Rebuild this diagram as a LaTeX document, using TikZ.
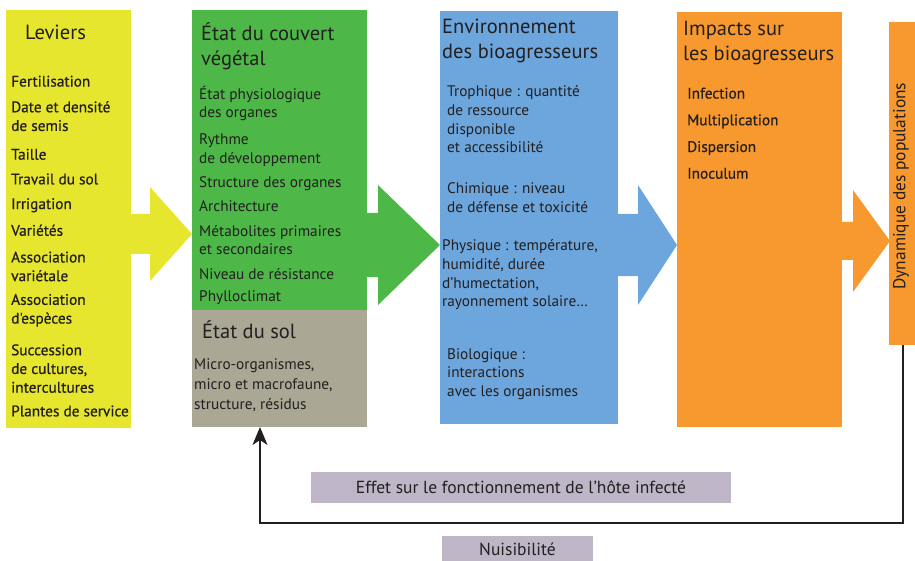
\documentclass[tikz,border=0pt]{standalone}
\usepackage{fontspec}
\setmainfont{PT Sans}
\newfontfamily\semib{PT Sans}[FakeBold=0.6]
\usetikzlibrary{arrows.meta,positioning,calc}
\definecolor{levyellow}{HTML}{E6E62E}
\definecolor{couvgreen}{HTML}{4DB748}
\definecolor{solgray}{HTML}{AAA794}
\definecolor{envblue}{HTML}{6DA6DC}
\definecolor{imporange}{HTML}{F7992E}
\definecolor{notegray}{HTML}{BEB6C6}
\definecolor{ink}{HTML}{231F20}

\begin{document}
\begin{tikzpicture}[x=1pt, y=-1pt,
  panel/.style={anchor=north west, inner sep=0pt, outer sep=0pt},
  head/.style={anchor=north west, inner sep=0pt, align=left, text=ink,
    font=\fontsize{20.5}{25}\selectfont, execute at begin node=\strut},
  item/.style={anchor=north west, inner sep=0pt, align=left, text=ink,
    font=\fontsize{15.3}{18.7}\selectfont, execute at begin node=\strut},
  bitem/.style={item, font=\semib\fontsize{15.3}{18.7}\selectfont},
  note/.style={fill=notegray, inner sep=0pt, text=ink, font=\fontsize{17.5}{20}\selectfont},
  fback/.style={-{Stealth[length=18pt,width=15pt,inset=5pt]}, line width=2pt, ink},
]
  \useasboundingbox (0,0) rectangle (915,561);

  % Columns
  \node[panel, fill=levyellow, minimum width=125pt, minimum height=418pt] (lev) at (6,10) {};
  \node[panel, fill=couvgreen, minimum width=175pt, minimum height=300pt] (couv) at (192,10) {};
  \node[panel, fill=solgray, minimum width=175pt, minimum height=117pt] (sol) at (192,310) {};
  \node[panel, fill=envblue, minimum width=178pt, minimum height=413pt] (env) at (440,11) {};
  \node[panel, fill=imporange, minimum width=165pt, minimum height=415pt] (imp) at (677,12) {};
  \node[panel, fill=imporange, minimum width=28pt, minimum height=323pt] (dyn) at (889,22) {};

  % Block arrows between the columns
  \foreach \c/\xa/\xb/\xc/\ym/\s/\h in {levyellow/130/150/192/234/20/47,
      couvgreen/366/378/440/245/32/60, envblue/617/638/677/245/31/60,
      imporange/841/853/890/241/19/51}
    \fill[\c] (\xa,\ym-\s) -- (\xb,\ym-\s) -- (\xb,\ym-\h) -- (\xc,\ym)
      -- (\xb,\ym+\h) -- (\xb,\ym+\s) -- (\xa,\ym+\s) -- cycle;

  % Leviers
  \node[head] (levt) at (25,21.5) {Leviers};
  \node[bitem] (levl) at (11,75.5)
    {Fertilisation\\[7pt] Date et densité\\de semis\\[10pt] Taille\\[6pt]
     Travail du sol\\[6pt] Irrigation\\[8pt] Variétés\\[8pt] Association\\variétale\\[5pt]
     Association\\d'espèces\\[13pt] Succession\\de cultures,\\intercultures\\[5pt]
     Plantes de service};

  % Couvert vegetal and sol
  \node[head] (couvt) at (201,22.5) {État du couvert\\végétal};
  \node[item] (couvl) at (199,85.5)
    {État physiologique\\des organes\\[8pt] Rythme\\de développement\\[6pt]
     Structure des organes\\[5pt] Architecture\\[6pt] Métabolites primaires\\et secondaires\\[6pt]
     Niveau de résistance\\[3pt] Phylloclimat};
  \node[head] (solt) at (202,320.5) {État du sol};
  \node[item] (soll) at (194,358.5)
    {Micro-organismes,\\[1.5pt] micro et macrofaune,\\[1.5pt] structure, résidus};

  % Environnement
  \node[head] (envt) at (442,18.5) {Environnement\\des bioagresseurs};
  \node[item] (troph) at (447,85.5) {Trophique : quantité\\de ressource\\disponible\\et accessibilité};
  \node[item] (chim) at (447,182.5) {Chimique : niveau\\de défense et toxicité};
  \node[item] (phys) at (442,239.5) {Physique : température,\\humidité, durée\\d'humectation,\\rayonnement solaire…};
  \node[item] (bio) at (447,348) {Biologique :\\interactions\\avec les organismes};

  % Impacts
  \node[head] (impt) at (683,21) {Impacts sur\\les bioagresseurs};
  \node[bitem] (impl) at (687,87.5)
    {Infection\\[8pt] Multiplication\\[8pt] Dispersion\\[8pt] Inoculum};

  \node[rotate=90, text=ink, font=\fontsize{17.4}{20}\selectfont] (dynt) at (901,186)
    {Dynamique des populations};

  % Feedback loop
  \coordinate (coin) at (260,523);
  \draw[fback] (dyn.south) |- (coin) -- (coin |- sol.south);
  \node[note, minimum width=420pt, minimum height=31pt] (effet) at (521,487.5)
    {Effet sur le fonctionnement de l’hôte infecté};
  \node[note, minimum width=151pt, minimum height=27pt] (nuis) at (517.5,549.5) {Nuisibilité};
\end{tikzpicture}
\end{document}
